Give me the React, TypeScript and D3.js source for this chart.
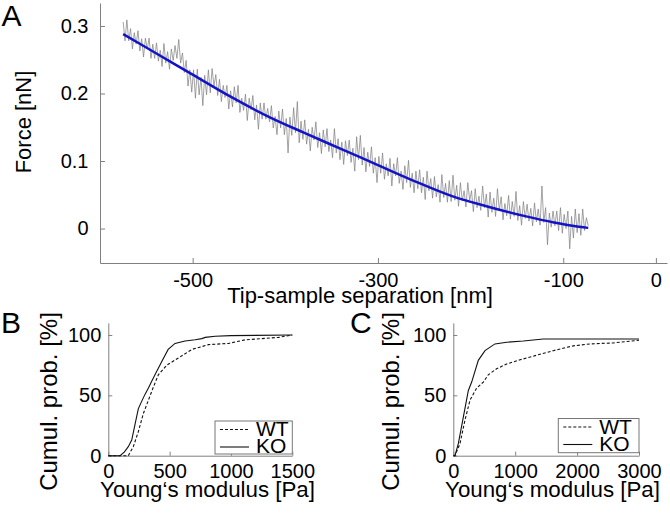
import { useRef, useEffect } from 'react';
import * as d3 from 'd3';

// Panel A: force curve, sampled every 2 nm from -575 nm
const traceStart = -575;
const traceStep = 2;
const traceForce = [
  0.306, 0.278, 0.309, 0.278, 0.296, 0.266, 0.290, 0.273, 0.293, 0.263, 0.281, 0.254, 0.282, 0.266, 0.282, 0.252, 0.273, 0.252,
  0.275, 0.248, 0.264, 0.240, 0.274, 0.245, 0.262, 0.236, 0.266, 0.249, 0.271, 0.252, 0.280, 0.245, 0.260, 0.231, 0.249, 0.211, 0.235, 0.202,
  0.235, 0.193, 0.236, 0.198, 0.224, 0.182, 0.227, 0.198, 0.235, 0.201, 0.237, 0.211, 0.228, 0.197, 0.221, 0.188, 0.212, 0.194, 0.212, 0.177,
  0.204, 0.180, 0.210, 0.186, 0.212, 0.172, 0.193, 0.175, 0.199, 0.160, 0.193, 0.176, 0.197, 0.161, 0.183, 0.147, 0.186, 0.162, 0.186, 0.162,
  0.178, 0.158, 0.182, 0.149, 0.166, 0.139, 0.174, 0.149, 0.177, 0.139, 0.163, 0.112, 0.165, 0.138, 0.179, 0.142, 0.188, 0.127, 0.159, 0.132,
  0.161, 0.125, 0.147, 0.115, 0.150, 0.131, 0.158, 0.120, 0.142, 0.111, 0.146, 0.121, 0.148, 0.114, 0.131, 0.105, 0.148, 0.112, 0.133, 0.102,
  0.128, 0.095, 0.130, 0.108, 0.131, 0.098, 0.119, 0.085, 0.136, 0.102, 0.138, 0.094, 0.120, 0.084, 0.113, 0.092, 0.121, 0.082, 0.105, 0.068,
  0.107, 0.082, 0.112, 0.073, 0.096, 0.078, 0.104, 0.063, 0.096, 0.078, 0.105, 0.067, 0.085, 0.058, 0.093, 0.068, 0.101, 0.061, 0.082, 0.053,
  0.085, 0.059, 0.087, 0.053, 0.076, 0.043, 0.085, 0.056, 0.074, 0.045, 0.077, 0.047, 0.065, 0.039, 0.080, 0.046, 0.067, 0.039, 0.071, 0.040,
  0.079, 0.042, 0.064, 0.033, 0.068, 0.041, 0.056, 0.032, 0.068, 0.042, 0.056, 0.025, 0.059, 0.031, 0.048, 0.027, 0.063, 0.031, 0.051, 0.017,
  0.054, 0.024, 0.045, 0.018, 0.059, 0.027, 0.047, 0.013, 0.037, 0.019, 0.049, 0.014, 0.040, 0.018, 0.055, 0.012, 0.034, 0.005, 0.040, 0.015,
  0.036, 0.011, 0.030, 0.004, 0.038, 0.010, 0.029, 0.005, 0.063, 0.009, 0.031, -0.024, 0.023, 0.002, 0.026,
  0.004, 0.026, -0.003, 0.031, -0.007, 0.021, 0.000, 0.026, -0.030, 0.018, -0.014, 0.029, -0.006, 0.022, -0.010, 0.029, -0.003, 0.016, 0.004,
];
const fitSeparation = [-575, -540, -500, -460, -420, -380, -340, -300, -260, -220, -180, -140, -110, -90, -73];
const fitForce = [0.288, 0.260, 0.228, 0.196, 0.167, 0.142, 0.118, 0.094, 0.070, 0.048, 0.032, 0.018, 0.009, 0.004, 0.001];
const forceTicks = [0, 0.1, 0.2, 0.3];
const separationTicks = [-500, -300, -100, 0];

// Panel B: cumulative probability vs Young's modulus
const wtModulusB = [0, 163, 204, 245, 286, 327, 368, 408, 477, 572, 681, 817, 980, 1117, 1253, 1388, 1500];
const wtProbB = [0, 0, 7.5, 20, 35, 46, 57, 67, 75, 81, 88, 92, 93, 96, 97, 98, 100];
const koModulusB = [0, 96, 130, 163, 191, 220, 245, 272, 300, 327, 360, 395, 436, 488, 544, 626, 708, 763, 790, 871, 1000, 1500];
const koProbB = [0, 0, 3, 7.5, 13, 27, 39, 45, 51, 56, 63, 70, 78, 88, 93, 95, 96, 97, 98, 99, 99.5, 100];
const modulusTicksB = [0, 500, 1000, 1500];

// Panel C
const wtModulusC = [0, 27, 108, 189, 270, 377, 485, 565, 700, 862, 1077, 1400, 1615, 1938, 2210, 2583, 3000];
const wtProbC = [0, 0, 10, 29.6, 46, 56, 61, 67, 72, 76, 79.4, 84, 87, 91, 92.6, 93.4, 95.6];
const koModulusC = [0, 27, 81, 162, 243, 297, 404, 512, 673, 862, 1130, 1453, 3000];
const koProbC = [0, 0, 10, 32, 54, 61, 79, 87, 92.6, 94, 95, 96.7, 96.7];
const modulusTicksC = [0, 1000, 2000, 3000];
const probTicks = [0, 50, 100];

const FONT = '"Liberation Sans", Arial, Helvetica, sans-serif';
const AXIS_GREY = '#808080';

function styleAxis(g) {
  g.attr('font-size', 20).attr('font-family', FONT);
  g.select('.domain').attr('stroke', AXIS_GREY);
  g.selectAll('.tick line').attr('stroke', AXIS_GREY);
  g.selectAll('.tick text').attr('fill', '#000');
}

function drawCdf(svg, opts) {
  const { x, y, wt, ko, xTicks, legend, yLabelX, xLabelX, letter, letterX } = opts;

  svg.append('g')
    .attr('transform', `translate(${x.range()[0]},0)`)
    .call(d3.axisLeft(y).tickValues(probTicks).tickSizeInner(-4).tickSizeOuter(0).tickPadding(7).tickFormat(d => String(d)))
    .call(styleAxis);

  svg.append('g')
    .attr('transform', `translate(0,${y(0)})`)
    .call(d3.axisBottom(x).tickValues(xTicks).tickSizeInner(-4).tickSizeOuter(0).tickPadding(8.5).tickFormat(d => String(d)))
    .call(styleAxis);

  const line = d3.line().x(d => x(d[0])).y(d => y(d[1]));

  svg.append('path')
    .datum(d3.zip(wt[0], wt[1]))
    .attr('d', line)
    .attr('fill', 'none')
    .attr('stroke', '#111')
    .attr('stroke-width', 1.1)
    .attr('stroke-dasharray', '3,2');

  svg.append('path')
    .datum(d3.zip(ko[0], ko[1]))
    .attr('d', line)
    .attr('fill', 'none')
    .attr('stroke', '#111')
    .attr('stroke-width', 1.1);

  // legend
  const lg = svg.append('g').attr('transform', `translate(${legend.x},${legend.y})`);
  lg.append('rect')
    .attr('width', legend.w).attr('height', legend.h)
    .attr('fill', '#fff').attr('stroke', '#777').attr('stroke-width', 1);
  const rows = [['WT', '3,2', 8.5, 15], ['KO', null, 26, 32.3]];
  rows.forEach(([name, dash, ly, ty]) => {
    lg.append('line')
      .attr('x1', 5).attr('x2', 34).attr('y1', ly).attr('y2', ly)
      .attr('stroke', '#111').attr('stroke-width', 1.1)
      .attr('stroke-dasharray', dash);
    lg.append('text')
      .attr('x', 41).attr('y', ty)
      .attr('font-family', FONT).attr('font-size', 21)
      .text(name);
  });

  svg.append('text')
    .attr('transform', `translate(${yLabelX},401.5) rotate(-90)`)
    .attr('text-anchor', 'middle')
    .attr('font-family', FONT).attr('font-size', 24)
    .text('Cumul. prob. [%]');

  svg.append('text')
    .attr('x', xLabelX).attr('y', 497)
    .attr('text-anchor', 'middle')
    .attr('font-family', FONT).attr('font-size', 22.3)
    .text('Young‘s modulus [Pa]');

  svg.append('text')
    .attr('x', letterX).attr('y', 333)
    .attr('font-family', FONT).attr('font-size', 30)
    .text(letter);
}

export default function App() {
  const svgRef = useRef(null);

  useEffect(() => {
    const svg = d3.select(svgRef.current);
    svg.selectAll('*').remove();

    // ---- Panel A
    const x = d3.scaleLinear().domain([-600, 12]).range([100, 667]);
    const y = d3.scaleLinear().domain([-0.051, 0.334]).range([263, 3]);

    svg.append('g')
      .attr('transform', 'translate(100,0)')
      .call(d3.axisLeft(y).tickValues(forceTicks).tickSizeInner(-5).tickSizeOuter(0).tickPadding(11.5)
        .tickFormat(d => (d === 0 ? '0' : d3.format('.1f')(d))))
      .call(styleAxis);

    svg.append('g')
      .attr('transform', 'translate(0,263)')
      .call(d3.axisBottom(x).tickValues(separationTicks).tickSizeInner(-5).tickSizeOuter(0).tickPadding(9.5)
        .tickFormat(d => String(d)))
      .call(styleAxis);

    const trace = d3.line()
      .x((d, i) => x(traceStart + i * traceStep))
      .y(d => y(d));

    svg.append('path')
      .datum(traceForce)
      .attr('d', trace)
      .attr('fill', 'none')
      .attr('stroke', '#7d7d7d')
      .attr('stroke-width', 0.7);

    const fit = d3.line()
      .x(d => x(d[0]))
      .y(d => y(d[1]))
      .curve(d3.curveMonotoneX);

    svg.append('path')
      .datum(d3.zip(fitSeparation, fitForce))
      .attr('d', fit)
      .attr('fill', 'none')
      .attr('stroke', '#1212c8')
      .attr('stroke-width', 2.5);

    svg.append('text')
      .attr('transform', 'translate(31,122) rotate(-90)')
      .attr('text-anchor', 'middle')
      .attr('font-family', FONT).attr('font-size', 22)
      .text('Force [nN]');

    svg.append('text')
      .attr('x', 360).attr('y', 303)
      .attr('text-anchor', 'middle')
      .attr('font-family', FONT).attr('font-size', 22)
      .text('Tip-sample separation [nm]');

    svg.append('text')
      .attr('x', 1.5).attr('y', 26)
      .attr('font-family', FONT).attr('font-size', 30)
      .text('A');

    // ---- Panel B
    drawCdf(svg, {
      x: d3.scaleLinear().domain([0, 1500]).range([108.3, 292.3]),
      y: d3.scaleLinear().domain([0, 110]).range([455.7, 322.9]),
      wt: [wtModulusB, wtProbB],
      ko: [koModulusB, koProbB],
      xTicks: modulusTicksB,
      legend: { x: 215, y: 421, w: 77.3, h: 33 },
      yLabelX: 56.5,
      xLabelX: 207.5,
      letter: 'B',
      letterX: 1,
    });

    // ---- Panel C
    drawCdf(svg, {
      x: d3.scaleLinear().domain([0, 3000]).range([453.3, 639]),
      y: d3.scaleLinear().domain([0, 110]).range([455.7, 322.9]),
      wt: [wtModulusC, wtProbC],
      ko: [koModulusC, koProbC],
      xTicks: modulusTicksC,
      legend: { x: 558.3, y: 418.5, w: 80.7, h: 34.2 },
      yLabelX: 399,
      xLabelX: 552.5,
      letter: 'C',
      letterX: 350,
    });
  }, []);

  return (
    <svg
      ref={svgRef}
      width={670}
      height={516}
      style={{ position: 'absolute', left: 0, top: 0, background: '#fff' }}
    />
  );
}
